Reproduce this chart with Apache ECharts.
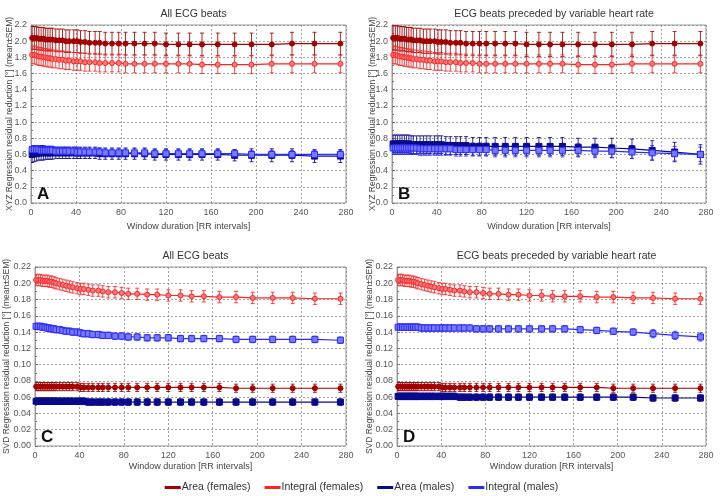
<!DOCTYPE html>
<html>
<head>
<meta charset="utf-8">
<script src="https://cdn.jsdelivr.net/npm/echarts@6/dist/echarts.min.js"></script>
<style>
  html, body { margin: 0; padding: 0; background: #fff; }
  #chart { width: 723px; height: 496px; }
</style>
</head>
<body>
<div id="chart"></div>
<script>
// window durations [RR intervals]
var windows = [1,3,5,7,9,11,13,15,17,19,22,25,28,31,34,38,41,44,48,52,57,61,66,72,78,84,92,101,110,120,131,141,152,166,181,196,214,232,252,275]
var xTicks = [0, 40, 80, 120, 160, 200, 240, 280]

// A: XYZ, all ECG beats
var aAreaF = [2.04,2.04,2.04,2.03,2.03,2.03,2.02,2.02,2.02,2.02,2.01,2.01,2.01,2.00,2.00,2.00,2.00,1.99,1.99,1.98,1.98,1.98,1.97,1.97,1.97,1.97,1.97,1.97,1.97,1.96,1.96,1.96,1.96,1.96,1.96,1.96,1.96,1.97,1.97,1.97]
var aAreaFSem = [0.14,0.14,0.14,0.14,0.14,0.14,0.14,0.14,0.14,0.14,0.14,0.14,0.14,0.14,0.14,0.14,0.14,0.14,0.14,0.14,0.14,0.14,0.14,0.14,0.14,0.14,0.14,0.14,0.14,0.14,0.14,0.14,0.14,0.14,0.14,0.14,0.14,0.14,0.14,0.14]
var aIntF = [1.83,1.83,1.82,1.81,1.81,1.80,1.80,1.79,1.79,1.78,1.78,1.77,1.77,1.76,1.76,1.75,1.75,1.75,1.74,1.74,1.74,1.73,1.73,1.73,1.73,1.72,1.72,1.72,1.72,1.72,1.72,1.72,1.71,1.71,1.71,1.71,1.72,1.72,1.72,1.72]
var aIntFSem = [0.11,0.11,0.11,0.11,0.11,0.11,0.11,0.11,0.11,0.11,0.11,0.11,0.11,0.11,0.11,0.11,0.11,0.11,0.11,0.11,0.11,0.11,0.11,0.11,0.11,0.11,0.11,0.11,0.11,0.11,0.11,0.11,0.11,0.11,0.11,0.11,0.11,0.11,0.11,0.11]
var aAreaM = [0.60,0.61,0.61,0.62,0.62,0.62,0.62,0.62,0.62,0.62,0.62,0.62,0.62,0.62,0.62,0.62,0.62,0.62,0.62,0.62,0.62,0.61,0.61,0.61,0.61,0.61,0.61,0.61,0.60,0.60,0.60,0.60,0.60,0.60,0.59,0.59,0.59,0.59,0.58,0.58]
var aAreaMSem = [0.10,0.10,0.09,0.09,0.09,0.09,0.08,0.08,0.08,0.08,0.07,0.07,0.07,0.07,0.07,0.07,0.07,0.07,0.07,0.07,0.07,0.07,0.07,0.07,0.07,0.07,0.07,0.07,0.07,0.07,0.07,0.07,0.07,0.07,0.07,0.08,0.08,0.08,0.08,0.08]
var aIntM = [0.66,0.66,0.66,0.66,0.65,0.65,0.65,0.65,0.65,0.65,0.64,0.64,0.64,0.64,0.64,0.64,0.63,0.63,0.63,0.63,0.63,0.63,0.62,0.62,0.62,0.62,0.62,0.62,0.61,0.61,0.61,0.61,0.61,0.61,0.61,0.60,0.60,0.60,0.60,0.60]
var aIntMSem = [0.05,0.05,0.05,0.05,0.05,0.05,0.05,0.05,0.05,0.05,0.05,0.05,0.05,0.05,0.05,0.05,0.05,0.05,0.05,0.05,0.05,0.05,0.05,0.05,0.05,0.05,0.05,0.05,0.05,0.05,0.05,0.05,0.05,0.05,0.05,0.05,0.05,0.05,0.05,0.05]

// B: XYZ, beats preceded by variable heart rate
var bAreaF = [2.04,2.04,2.04,2.03,2.03,2.03,2.02,2.02,2.02,2.01,2.01,2.01,2.00,2.00,2.00,2.00,1.99,1.99,1.99,1.98,1.98,1.98,1.97,1.97,1.97,1.97,1.97,1.97,1.97,1.96,1.96,1.96,1.96,1.96,1.96,1.96,1.96,1.97,1.97,1.97]
var bAreaFSem = [0.15,0.15,0.15,0.15,0.15,0.15,0.15,0.15,0.15,0.15,0.15,0.15,0.15,0.15,0.15,0.15,0.15,0.15,0.15,0.15,0.15,0.15,0.15,0.15,0.15,0.15,0.15,0.15,0.15,0.15,0.15,0.15,0.15,0.15,0.15,0.15,0.15,0.15,0.15,0.15]
var bIntF = [1.83,1.83,1.82,1.81,1.81,1.80,1.80,1.79,1.79,1.78,1.78,1.77,1.77,1.76,1.76,1.75,1.75,1.75,1.74,1.74,1.74,1.73,1.73,1.73,1.72,1.72,1.72,1.72,1.72,1.72,1.72,1.72,1.72,1.71,1.71,1.71,1.72,1.72,1.72,1.72]
var bIntFSem = [0.11,0.11,0.11,0.11,0.11,0.11,0.11,0.11,0.11,0.11,0.11,0.11,0.11,0.11,0.11,0.11,0.11,0.11,0.11,0.11,0.11,0.11,0.11,0.11,0.11,0.11,0.11,0.11,0.11,0.11,0.11,0.11,0.11,0.11,0.11,0.11,0.11,0.11,0.11,0.11]
var bAreaM = [0.73,0.73,0.73,0.73,0.73,0.73,0.73,0.73,0.72,0.72,0.72,0.72,0.72,0.72,0.72,0.72,0.72,0.72,0.71,0.71,0.71,0.71,0.71,0.70,0.70,0.70,0.70,0.70,0.70,0.70,0.70,0.70,0.70,0.69,0.69,0.68,0.67,0.65,0.63,0.60]
var bAreaMSem = [0.11,0.11,0.11,0.11,0.11,0.11,0.11,0.11,0.11,0.11,0.11,0.11,0.11,0.11,0.11,0.11,0.11,0.11,0.11,0.11,0.11,0.11,0.11,0.11,0.11,0.11,0.11,0.11,0.11,0.11,0.11,0.11,0.11,0.11,0.11,0.12,0.12,0.12,0.12,0.12]
var bIntM = [0.68,0.68,0.68,0.68,0.68,0.68,0.68,0.68,0.68,0.68,0.68,0.67,0.67,0.67,0.67,0.67,0.67,0.67,0.67,0.67,0.66,0.66,0.66,0.66,0.66,0.66,0.65,0.65,0.65,0.65,0.65,0.65,0.65,0.65,0.64,0.64,0.63,0.62,0.61,0.60]
var bIntMSem = [0.08,0.08,0.08,0.08,0.08,0.08,0.08,0.08,0.08,0.08,0.08,0.08,0.08,0.08,0.08,0.08,0.08,0.08,0.08,0.08,0.08,0.08,0.08,0.08,0.08,0.08,0.08,0.08,0.08,0.08,0.08,0.08,0.08,0.08,0.08,0.08,0.08,0.09,0.09,0.09]

// C: SVD, all ECG beats
var cAreaF = [0.073,0.073,0.073,0.073,0.073,0.073,0.073,0.073,0.073,0.073,0.073,0.073,0.073,0.073,0.073,0.073,0.072,0.072,0.072,0.072,0.072,0.072,0.072,0.072,0.072,0.072,0.072,0.072,0.072,0.072,0.072,0.072,0.072,0.072,0.071,0.071,0.071,0.071,0.071,0.071]
var cAreaFSem = [0.005,0.005,0.005,0.005,0.005,0.005,0.005,0.005,0.005,0.005,0.005,0.005,0.005,0.005,0.005,0.005,0.005,0.005,0.005,0.005,0.005,0.005,0.005,0.005,0.005,0.005,0.005,0.005,0.005,0.005,0.005,0.005,0.005,0.005,0.005,0.005,0.005,0.005,0.005,0.005]
var cIntF = [0.204,0.204,0.204,0.203,0.203,0.203,0.202,0.202,0.201,0.200,0.199,0.198,0.197,0.196,0.195,0.194,0.193,0.193,0.192,0.191,0.191,0.190,0.189,0.189,0.188,0.187,0.187,0.186,0.186,0.185,0.185,0.184,0.184,0.183,0.183,0.182,0.182,0.182,0.181,0.181]
var cIntFSem = [0.007,0.007,0.007,0.007,0.007,0.007,0.007,0.007,0.007,0.007,0.007,0.007,0.007,0.007,0.007,0.007,0.007,0.007,0.007,0.007,0.007,0.007,0.007,0.007,0.007,0.007,0.007,0.007,0.007,0.007,0.007,0.007,0.007,0.007,0.007,0.007,0.007,0.007,0.007,0.007]
var cAreaM = [0.055,0.055,0.055,0.055,0.055,0.055,0.055,0.055,0.055,0.055,0.055,0.055,0.055,0.055,0.055,0.055,0.055,0.055,0.054,0.054,0.054,0.054,0.054,0.054,0.054,0.054,0.054,0.054,0.054,0.054,0.054,0.054,0.054,0.054,0.054,0.054,0.054,0.054,0.054,0.054]
var cAreaMSem = [0.004,0.004,0.004,0.004,0.004,0.004,0.004,0.004,0.004,0.004,0.004,0.004,0.004,0.004,0.004,0.004,0.004,0.004,0.004,0.004,0.004,0.004,0.004,0.004,0.004,0.004,0.004,0.004,0.004,0.004,0.004,0.004,0.004,0.004,0.004,0.004,0.004,0.004,0.004,0.004]
var cIntM = [0.147,0.147,0.147,0.146,0.146,0.145,0.145,0.144,0.144,0.143,0.143,0.142,0.141,0.141,0.140,0.140,0.139,0.138,0.138,0.137,0.137,0.136,0.136,0.135,0.135,0.134,0.134,0.133,0.133,0.133,0.132,0.132,0.132,0.132,0.131,0.131,0.131,0.131,0.131,0.130]
var cIntMSem = [0.004,0.004,0.004,0.004,0.004,0.004,0.004,0.004,0.004,0.004,0.004,0.004,0.004,0.004,0.004,0.004,0.004,0.004,0.004,0.004,0.004,0.004,0.004,0.004,0.004,0.004,0.004,0.004,0.004,0.004,0.004,0.004,0.004,0.004,0.004,0.004,0.004,0.004,0.004,0.004]

// D: SVD, beats preceded by variable heart rate
var dAreaF = [0.073,0.073,0.073,0.073,0.073,0.073,0.073,0.073,0.073,0.073,0.073,0.073,0.073,0.073,0.073,0.073,0.072,0.072,0.072,0.072,0.072,0.072,0.072,0.072,0.072,0.072,0.072,0.072,0.072,0.072,0.072,0.072,0.072,0.072,0.072,0.071,0.071,0.071,0.071,0.071]
var dAreaFSem = [0.005,0.005,0.005,0.005,0.005,0.005,0.005,0.005,0.005,0.005,0.005,0.005,0.005,0.005,0.005,0.005,0.005,0.005,0.005,0.005,0.005,0.005,0.005,0.005,0.005,0.005,0.005,0.005,0.005,0.005,0.005,0.005,0.005,0.005,0.005,0.005,0.005,0.005,0.005,0.005]
var dIntF = [0.204,0.204,0.204,0.203,0.203,0.203,0.202,0.202,0.201,0.200,0.199,0.198,0.197,0.196,0.195,0.194,0.193,0.193,0.192,0.191,0.191,0.190,0.189,0.189,0.188,0.187,0.187,0.186,0.186,0.185,0.185,0.184,0.184,0.184,0.183,0.183,0.182,0.182,0.181,0.181]
var dIntFSem = [0.007,0.007,0.007,0.007,0.007,0.007,0.007,0.007,0.007,0.007,0.007,0.007,0.007,0.007,0.007,0.007,0.007,0.007,0.007,0.007,0.007,0.007,0.007,0.007,0.007,0.007,0.007,0.007,0.007,0.007,0.007,0.007,0.007,0.007,0.007,0.007,0.007,0.007,0.007,0.007]
var dAreaM = [0.061,0.061,0.061,0.061,0.061,0.061,0.061,0.061,0.061,0.061,0.061,0.061,0.061,0.061,0.061,0.061,0.061,0.061,0.061,0.061,0.060,0.060,0.060,0.060,0.060,0.060,0.060,0.060,0.060,0.060,0.060,0.060,0.060,0.060,0.060,0.060,0.060,0.059,0.059,0.059]
var dAreaMSem = [0.004,0.004,0.004,0.004,0.004,0.004,0.004,0.004,0.004,0.004,0.004,0.004,0.004,0.004,0.004,0.004,0.004,0.004,0.004,0.004,0.004,0.004,0.004,0.004,0.004,0.004,0.004,0.004,0.004,0.004,0.004,0.004,0.004,0.004,0.004,0.004,0.004,0.004,0.004,0.004]
var dIntM = [0.146,0.146,0.146,0.146,0.146,0.146,0.146,0.146,0.146,0.146,0.145,0.145,0.145,0.145,0.145,0.145,0.145,0.145,0.145,0.145,0.145,0.145,0.145,0.144,0.144,0.144,0.144,0.144,0.144,0.144,0.144,0.144,0.144,0.143,0.142,0.141,0.140,0.138,0.136,0.134]
var dIntMSem = [0.004,0.004,0.004,0.004,0.004,0.004,0.004,0.004,0.004,0.004,0.004,0.004,0.004,0.004,0.004,0.004,0.004,0.004,0.004,0.004,0.004,0.004,0.004,0.004,0.004,0.004,0.004,0.004,0.004,0.004,0.004,0.004,0.004,0.004,0.004,0.004,0.004,0.005,0.005,0.005]

var seriesNames = ['Area (females)', 'Integral (females)', 'Area (males)', 'Integral (males)']
var colors = ['#a30000', '#ff2424', '#0a0a8c', '#2b2bff']
var fills = ['#a30000', '#ff7a7a', '#0a0a8c', '#7a7aff']
var symbols = ['circle', 'circle', 'rect', 'rect']

var panels = [
  { title: 'All ECG beats', letter: 'A', grid: {left: 31, top: 25, width: 315, height: 178}, max: 2.2, step: 0.2, dec: 1,
    yName: 'XYZ Regression residual reduction [°] (mean±SEM)', nameGap: 17, xGap: 19,
    data: [[aAreaF, aAreaFSem], [aIntF, aIntFSem], [aAreaM, aAreaMSem], [aIntM, aIntMSem]] },
  { title: 'ECG beats preceded by variable heart rate', letter: 'B', grid: {left: 392, top: 25, width: 314, height: 178}, max: 2.2, step: 0.2, dec: 1,
    yName: 'XYZ Regression residual reduction [°] (mean±SEM)', nameGap: 15, xGap: 19,
    data: [[bAreaF, bAreaFSem], [bIntF, bIntFSem], [bAreaM, bAreaMSem], [bIntM, bIntMSem]] },
  { title: 'All ECG beats', letter: 'C', grid: {left: 35, top: 267, width: 311, height: 179}, max: 0.22, step: 0.02, dec: 2,
    yName: 'SVD Regression residual reduction [°] (mean±SEM)', nameGap: 24, xGap: 16,
    data: [[cAreaF, cAreaFSem], [cIntF, cIntFSem], [cAreaM, cAreaMSem], [cIntM, cIntMSem]] },
  { title: 'ECG beats preceded by variable heart rate', letter: 'D', grid: {left: 397, top: 267, width: 309, height: 179}, max: 0.22, step: 0.02, dec: 2,
    yName: 'SVD Regression residual reduction [°] (mean±SEM)', nameGap: 23, xGap: 16,
    data: [[dAreaF, dAreaFSem], [dIntF, dIntFSem], [dAreaM, dAreaMSem], [dIntM, dIntMSem]] }
]

function errorBar(params, api) {
  var x = api.value(0)
  var top = api.coord([x, api.value(2)])
  var bot = api.coord([x, api.value(1)])
  var c = api.visual('color')
  var w = 2
  var style = { stroke: c, lineWidth: 1, opacity: 0.85 }
  return {
    type: 'group',
    children: [
      { type: 'line', shape: { x1: top[0], y1: top[1], x2: bot[0], y2: bot[1] }, style: style },
      { type: 'line', shape: { x1: top[0] - w, y1: top[1], x2: top[0] + w, y2: top[1] }, style: style },
      { type: 'line', shape: { x1: bot[0] - w, y1: bot[1], x2: bot[0] + w, y2: bot[1] }, style: style }
    ]
  }
}

var grids = [], xAxes = [], yAxes = [], series = [], titles = [], graphics = []
var gridLine = { show: true, lineStyle: { color: '#8a8a8a', type: [2, 2], width: 0.8 } }

panels.forEach(function (p, i) {
  grids.push(Object.assign({ show: true, borderColor: '#9a9a9a', borderWidth: 1, backgroundColor: '#fff' }, p.grid))
  xAxes.push({
    type: 'value', gridIndex: i, min: xTicks[0], max: xTicks[xTicks.length - 1], interval: 40,
    name: 'Window duration [RR intervals]', nameLocation: 'middle', nameGap: p.xGap, nameMoveOverlap: false,
    nameTextStyle: { fontSize: 9, color: '#444' },
    axisLine: { show: false }, axisTick: { show: false },
    axisLabel: { fontSize: 9, color: '#555', margin: 5 },
    splitLine: gridLine
  })
  yAxes.push({
    type: 'value', gridIndex: i, min: 0, max: p.max, interval: p.step,
    name: p.yName, nameLocation: 'middle', nameGap: p.nameGap, nameMoveOverlap: false,
    nameTextStyle: { fontSize: 8.5, color: '#444' },
    axisLine: { show: true, lineStyle: { color: '#9a9a9a' } },
    axisTick: { show: true, inside: true, length: 3, lineStyle: { color: '#777' } },
    minorTick: { show: true, splitNumber: 2, length: 2, lineStyle: { color: '#777' } },
    axisLabel: { fontSize: 9, color: '#555', margin: 4, formatter: function (v) { return v.toFixed(p.dec) } },
    splitLine: gridLine
  })
  titles.push({
    text: p.title, left: p.grid.left + p.grid.width / 2, top: p.grid.top - 21, textAlign: 'center',
    textStyle: { fontSize: 10.5, fontWeight: 'normal', color: '#333' }
  })
  graphics.push({
    type: 'text', left: p.grid.left + 6, top: p.grid.top + p.grid.height - 17,
    style: { text: p.letter, font: 'bold 17px Arial, sans-serif', fill: '#111' }
  })
  p.data.forEach(function (d, k) {
    var mean = d[0], sem = d[1]
    series.push({
      name: seriesNames[k], type: 'custom', xAxisIndex: i, yAxisIndex: i, z: 2,
      renderItem: errorBar, itemStyle: { color: colors[k] }, clip: true,
      data: windows.map(function (w, j) { return [w, mean[j] - sem[j], mean[j] + sem[j]] })
    })
  })
  p.data.forEach(function (d, k) {
    series.push({
      name: seriesNames[k], type: 'line', xAxisIndex: i, yAxisIndex: i, z: 3,
      symbol: symbols[k], symbolSize: k < 2 ? 5 : 6,
      lineStyle: { color: colors[k], width: 1.2 },
      itemStyle: { color: fills[k], borderColor: colors[k], borderWidth: 1 },
      data: windows.map(function (w, j) { return [w, d[0][j]] })
    })
  })
})

var chart = echarts.init(document.getElementById('chart'))
chart.setOption({
  animation: false,
  backgroundColor: '#fff',
  textStyle: { fontFamily: 'Arial, "Liberation Sans", sans-serif' },
  title: titles,
  grid: grids,
  xAxis: xAxes,
  yAxis: yAxes,
  graphic: graphics,
  legend: {
    data: seriesNames.map(function (n, k) { return { name: n, itemStyle: { color: colors[k] } } }),
    bottom: 3, padding: 0, left: 'center', icon: 'rect', itemWidth: 16, itemHeight: 3, itemGap: 14,
    textStyle: { fontSize: 10.5, color: '#333', padding: [0, 0, 0, -4] }
  },
  series: series
})
</script>
</body>
</html>
